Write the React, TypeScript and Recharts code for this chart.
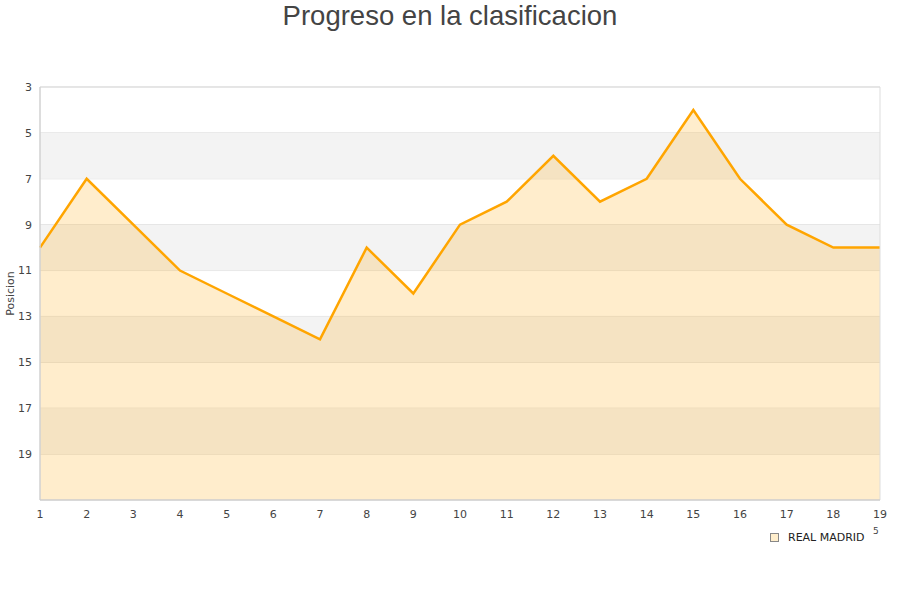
import React from 'react';
import {
  ComposedChart,
  Area,
  XAxis,
  YAxis,
  CartesianGrid,
  ReferenceArea,
} from 'recharts';

const jornadas = [1, 2, 3, 4, 5, 6, 7, 8, 9, 10, 11, 12, 13, 14, 15, 16, 17, 18, 19];
const posiciones = [10, 7, 9, 11, 12, 13, 14, 10, 12, 9, 8, 6, 8, 7, 4, 7, 9, 10, 10];
const yTicks = [3, 5, 7, 9, 11, 13, 15, 17, 19];
const bandas = [
  [5, 7],
  [9, 11],
  [13, 15],
  [17, 19],
];

const data = jornadas.map((j, i) => ({ jornada: j, pos: posiciones[i] }));

const W = 900;
const H = 600;

export default function App() {
  return (
    <div style={{ position: 'absolute', left: 0, top: 0, width: W, height: H, background: '#fff', fontFamily: '"DejaVu Sans", sans-serif' }}>
      <div
        style={{
          position: 'absolute',
          top: 0,
          left: 0,
          width: W,
          textAlign: 'center',
          fontFamily: '"Liberation Sans", Arial, sans-serif',
          fontSize: 27.5,
          color: '#444',
          lineHeight: '32px',
        }}
      >
        Progreso en la clasificacion
      </div>
      <ComposedChart
        width={W}
        height={H}
        data={data}
        margin={{ top: 87, right: 20, left: 0, bottom: 70 }}
      >
        {bandas.map(([a, b]) => (
          <ReferenceArea key={a} y1={a} y2={b} fill="#f3f3f3" fillOpacity={1} stroke="none" />
        ))}
        <CartesianGrid horizontal vertical={false} stroke="#dddddd" />
        <XAxis
          dataKey="jornada"
          type="number"
          domain={[1, 19]}
          ticks={jornadas}
          tick={{ fill: '#444', fontSize: 11, dy: 2 }}
          tickLine={false}
          axisLine={{ stroke: '#cccccc' }}
          height={30}
        />
        <YAxis
          reversed
          type="number"
          domain={[3, 21]}
          ticks={yTicks}
          interval={0}
          tick={{ fill: '#444', fontSize: 11 }}
          tickLine={false}
          axisLine={{ stroke: '#cccccc' }}
          width={40}
          label={({ viewBox }: any) => (
            <text
              x={14}
              y={viewBox.y + viewBox.height / 2}
              transform={`rotate(-90, 14, ${viewBox.y + viewBox.height / 2})`}
              textAnchor="middle"
              fontSize={11}
              fill="#444"
            >
              Posicion
            </text>
          )}
        />
        <YAxis yAxisId="right" orientation="right" width={0} tick={false} axisLine={{ stroke: '#dddddd' }} />
        <Area
          type="linear"
          dataKey="pos"
          baseValue={21}
          stroke="#ffa500"
          strokeWidth={2.5}
          fill="#ffa500"
          fillOpacity={0.2}
          dot={false}
          activeDot={false}
          isAnimationActive={false}
        />
        <ReferenceArea y1={3} y2={21} fill="none" stroke="#dddddd" ifOverflow="visible" />
      </ComposedChart>
      <div
        style={{
          position: 'absolute',
          left: 770,
          top: 531,
          display: 'flex',
          alignItems: 'center',
          fontSize: 11,
          color: '#222',
        }}
      >
        <span
          style={{
            display: 'inline-block',
            width: 7,
            height: 7,
            background: '#ffeecc',
            border: '1px solid #888',
            marginRight: 9,
          }}
        />
        <span>REAL MADRID</span>
      </div>
      <div style={{ position: 'absolute', left: 873, top: 526, fontSize: 9, color: '#444' }}>5</div>
    </div>
  );
}
